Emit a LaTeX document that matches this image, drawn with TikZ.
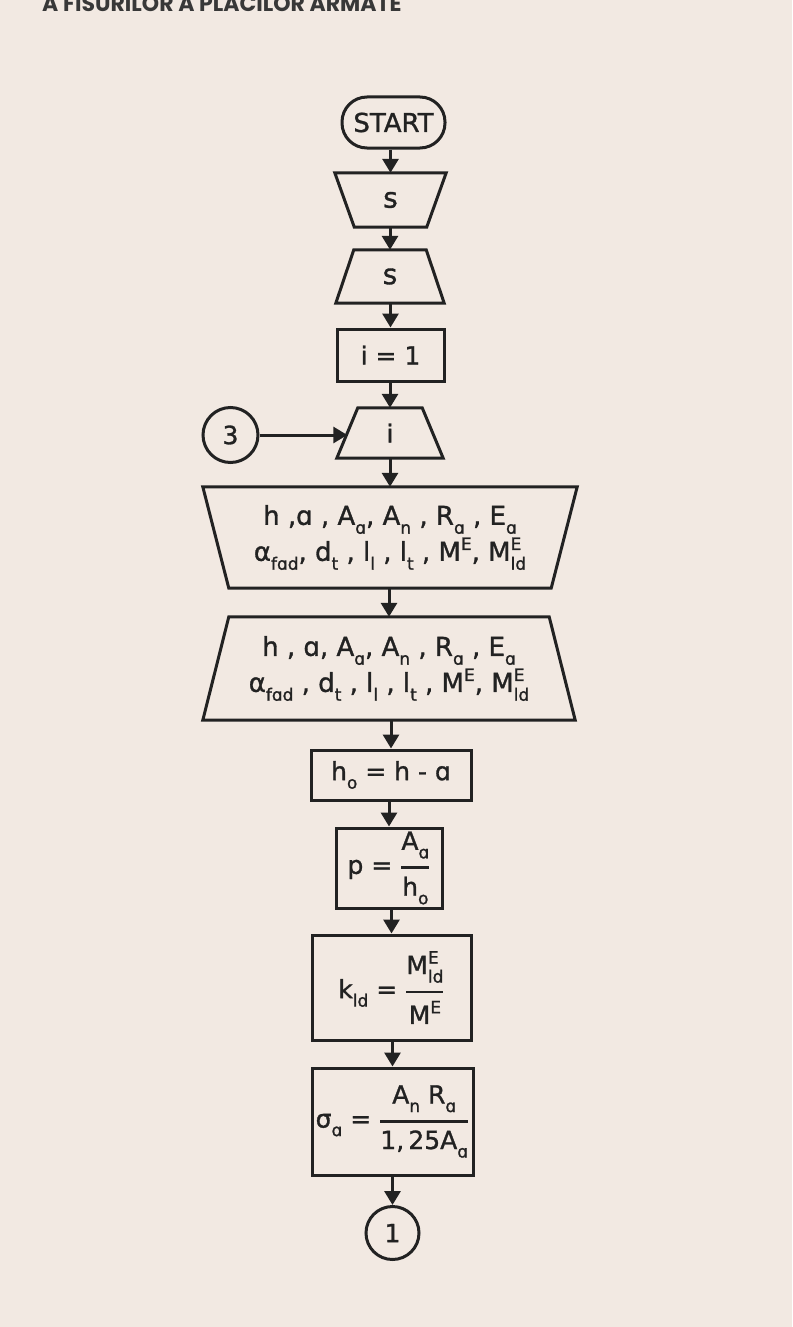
\documentclass[tikz,border=0pt]{standalone}
\usepackage{amsmath}
\usepackage{fontspec}
\setmainfont{DejaVu Sans}[FakeBold=1.2]
\newfontfamily\headfont{Poppins}
\usetikzlibrary{arrows.meta,calc}
\definecolor{ink}{HTML}{222222}
\definecolor{paper}{HTML}{F2E9E2}
\newcommand\sbs[1]{\raisebox{-0.34em}{\fontsize{17}{17}\selectfont #1}}
\newcommand\sps[1]{\raisebox{0.42em}{\fontsize{17}{17}\selectfont #1}}
\newcommand\spsb[2]{\rlap{\raisebox{0.42em}{\fontsize{17}{17}\selectfont #1}}\raisebox{-0.34em}{\fontsize{17}{17}\selectfont #2}}
\newcommand\frc[2]{$\displaystyle\genfrac{}{}{2.6pt}{}{\mbox{#1}}{\mbox{#2}}$}
\begin{document}
\begin{tikzpicture}[x=1pt,y=-1pt,
  ln/.style={draw=ink,line width=3pt,line join=miter},
  arr/.style={draw=ink,line width=3pt,-{Triangle[width=16pt,length=14pt]}},
  txt/.style={inner sep=0pt,text=ink,font=\fontsize{25}{35}\selectfont,align=center},
  pbox/.style={txt,draw=ink,line width=3pt,rectangle},
  con/.style={txt,draw=ink,line width=3pt,circle}]
\fill[paper] (0,0) rectangle (792,1327);
\useasboundingbox (0,0) rectangle (792,1327);
\begin{scope}
\clip (0,0) rectangle (792,1327);
\node[anchor=base west, inner sep=0pt, text=ink!90, font=\headfont\bfseries\fontsize{22}{22}\selectfont] (head) at (42,12) {A FISURILOR A PLĂCILOR ARMATE};
\end{scope}
% nodes
\node[pbox, rounded corners=25pt, minimum width=103pt, minimum height=51pt, font=\fontsize{26}{30}\selectfont] (start) at (393.5,122.5) {START};
\node[txt, minimum width=111pt, minimum height=54pt, font=\fontsize{28}{30}\selectfont] (s1) at (390.5,200) {s};
\draw[ln] (s1.north west) -- (s1.north east) -- ([xshift=-19.5pt]s1.south east) -- ([xshift=19.5pt]s1.south west) -- cycle;
\node[txt, minimum width=108pt, minimum height=53pt, font=\fontsize{28}{30}\selectfont] (s2) at (390,276.5) {s};
\draw[ln] ([xshift=18pt]s2.north west) -- ([xshift=-18pt]s2.north east) -- (s2.south east) -- (s2.south west) -- cycle;
\node[pbox, minimum width=107pt, minimum height=52pt] (i1) at (390.5,355) {i = 1};
\node[txt, minimum width=106pt, minimum height=50pt] (it) at (390,433) {i};
\draw[ln] ([xshift=21pt]it.north west) -- ([xshift=-21pt]it.north east) -- (it.south east) -- (it.south west) -- cycle;
\node[con, minimum size=55pt] (c3) at (230.5,435) {3};
\coordinate (itL) at ($(it.west)+(10.5,0)$);
\node[txt, minimum width=374pt, minimum height=101pt, font=\fontsize{26}{36}\selectfont] (in1) at (390,537.5)
  {h ,ɑ , A\sbs{ɑ}, A\sbs{n} , R\sbs{ɑ} , E\sbs{ɑ}\\
   α\sbs{fɑd}, d\sbs{t} , l\sbs{l} , l\sbs{t} , M\sps{E}, M\spsb{E}{ld}};
\draw[ln] (in1.north west) -- (in1.north east) -- ([xshift=-26pt]in1.south east) -- ([xshift=26pt]in1.south west) -- cycle;
\node[txt, minimum width=372pt, minimum height=103pt, font=\fontsize{26}{36}\selectfont] (out1) at (389,668.5)
  {h , ɑ, A\sbs{ɑ}, A\sbs{n} , R\sbs{ɑ} , E\sbs{ɑ}\\
   α\sbs{fɑd} , d\sbs{t} , l\sbs{l} , l\sbs{t} , M\sps{E}, M\spsb{E}{ld}};
\draw[ln] ([xshift=26pt]out1.north west) -- ([xshift=-26pt]out1.north east) -- (out1.south east) -- (out1.south west) -- cycle;
\node[pbox, minimum width=160pt, minimum height=50pt] (ho) at (391,775) {h\sbs{o} = h - ɑ};
\node[pbox, minimum width=106pt, minimum height=80pt] (p) at (389,868) {p = \frc{A\sbs{ɑ}}{h\sbs{o}}};
\node[pbox, minimum width=159pt, minimum height=105pt] (k) at (391.5,987.5) {k\sbs{ld} = \frc{M\spsb{E}{ld}}{M\sps{E}}};
\node[pbox, minimum width=161pt, minimum height=107pt] (sig) at (392.5,1121.5) {σ\sbs{ɑ} = \frc{A\sbs{n} R\sbs{ɑ}}{1,\thinspace 25A\sbs{ɑ}}};
\node[con, minimum size=53pt] (c1) at (392.5,1233) {1};
% connectors
\draw[arr] (s1.north |- start.south) -- (s1.north);
\draw[arr] (s2.north |- s1.south) -- (s2.north);
\draw[arr] (i1.north |- s2.south) -- (i1.north);
\draw[arr] (it.north |- i1.south) -- (it.north);
\draw[arr] (c3.east) -- (c3.east -| itL);
\draw[arr] (in1.north |- it.south) -- (in1.north);
\draw[arr] (out1.north |- in1.south) -- (out1.north);
\draw[arr] (ho.north |- out1.south) -- (ho.north);
\draw[arr] (p.north |- ho.south) -- (p.north);
\draw[arr] (k.north |- p.south) -- (k.north);
\draw[arr] (sig.north |- k.south) -- (sig.north);
\draw[arr] (c1.north |- sig.south) -- (c1.north);
\end{tikzpicture}
\end{document}
